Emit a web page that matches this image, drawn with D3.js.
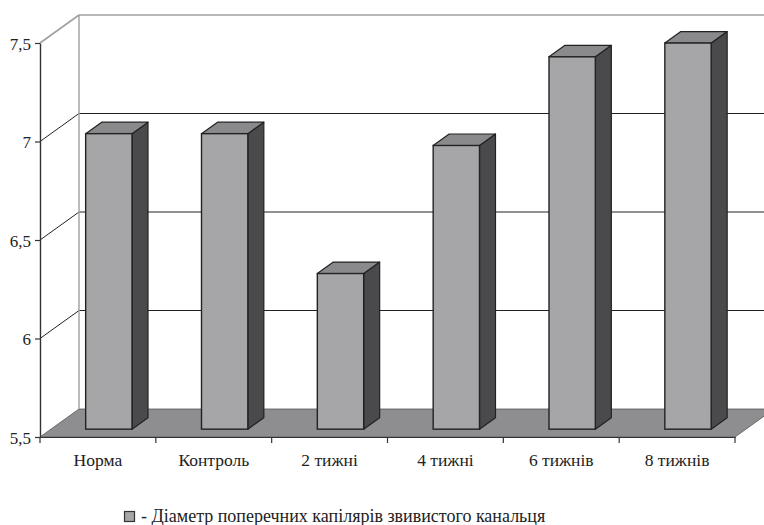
<!DOCTYPE html>
<html>
<head>
<meta charset="utf-8">
<title>Діаметр поперечних капілярів</title>
<script src="https://cdn.jsdelivr.net/npm/d3@7/dist/d3.min.js"></script>
</head>
<body style="margin:0;background:#ffffff">
<div id="wrap"></div>
<script>
// Time points and measured capillary diameters
const categories = ["Норма", "Контроль", "2 тижні", "4 тижні", "6 тижнів", "8 тижнів"];
const values = [7.0, 7.0, 6.29, 6.94, 7.39, 7.46];
const yTicks = [5.5, 6, 6.5, 7, 7.5];
const legendLabel = "- Діаметр поперечних капілярів звивистого канальця";

const SERIF = "'Liberation Serif'";
const svg = d3.select("#wrap").append("svg")
  .attr("width", 764).attr("height", 525)
  .style("display", "block").style("font-family", SERIF);

// Front plane of the 3D box and depth offset of the back wall
const x0 = 40, x1 = 735, yBase = 437, yTop = 43;
const DX = 39, DY = -28;
const f0 = 0.28, f1 = 0.69;   // bar front/back depth as a fraction of DX/DY

const x = d3.scaleBand().domain(categories).range([x0, x1]);
const y = d3.scaleLinear().domain([5.5, 7.5]).range([yBase, yTop]);
const fmt = v => String(v).replace(".", ",");

// Floor
svg.append("path")
  .attr("d", `M${x0},${yBase} L${x1},${yBase} L${x1 + DX},${yBase + DY} L${x0 + DX},${yBase + DY} Z`)
  .attr("fill", "#8e8e90").attr("stroke", "#555").attr("stroke-width", 0.8);

// Back wall gridlines and side-wall diagonals
yTicks.filter(t => t > 5.5).forEach(t => {
  const yy = y(t);
  const col = t === 7.5 ? "#a0a0a0" : "#222";
  const sw = t === 7.5 ? 1.6 : 1;
  svg.append("line").attr("x1", x0 + DX).attr("x2", 780)
    .attr("y1", yy + DY).attr("y2", yy + DY)
    .attr("stroke", col).attr("stroke-width", sw);
  svg.append("line").attr("x1", x0).attr("y1", yy)
    .attr("x2", x0 + DX).attr("y2", yy + DY)
    .attr("stroke", col).attr("stroke-width", sw);
});

// Back wall left edge
svg.append("line").attr("x1", x0 + DX).attr("x2", x0 + DX)
  .attr("y1", y(7.5) + DY).attr("y2", yBase + DY)
  .attr("stroke", "#a0a0a0").attr("stroke-width", 1.4);

// Bars: side, top, front faces
const bw = x.bandwidth() * 0.4;
const ox0 = DX * f0, oy0 = DY * f0;
const bdx = DX * (f1 - f0), bdy = DY * (f1 - f0);

svg.append("g").selectAll("g").data(categories).join("g").each(function (c, i) {
  const g = d3.select(this);
  const cx = x(c) + x.bandwidth() / 2 + ox0;
  const left = cx - bw / 2, right = cx + bw / 2;
  const top = y(values[i]) + oy0, bottom = yBase + oy0;
  g.append("path")
    .attr("d", `M${right},${top} L${right + bdx},${top + bdy} L${right + bdx},${bottom + bdy} L${right},${bottom} Z`)
    .attr("fill", "#4a4a4d").attr("stroke", "#222").attr("stroke-width", 1.2).attr("stroke-linejoin", "round");
  g.append("path")
    .attr("d", `M${left},${top} L${left + bdx},${top + bdy} L${right + bdx},${top + bdy} L${right},${top} Z`)
    .attr("fill", "#8a8a8d").attr("stroke", "#222").attr("stroke-width", 1.2).attr("stroke-linejoin", "round");
  g.append("rect")
    .attr("x", left).attr("y", top).attr("width", bw).attr("height", bottom - top)
    .attr("fill", "#a6a6a9").attr("stroke", "#222").attr("stroke-width", 1.4);
});

// Value axis
const yAxis = svg.append("g").attr("transform", `translate(${x0},0)`)
  .call(d3.axisLeft(y).tickValues(yTicks).tickFormat(fmt).tickSize(5).tickSizeOuter(0));
yAxis.attr("font-family", null).attr("font-size", null);
yAxis.select(".domain").attr("stroke", "#333").attr("stroke-width", 1.4);
yAxis.selectAll(".tick line").attr("stroke", "#333").attr("stroke-width", 1.2);
yAxis.selectAll(".tick text")
  .style("font-family", SERIF).style("font-size", "17px")
  .attr("fill", "#222").attr("dx", "-1").attr("dy", "0.36em");

// Category axis
const xAxis = svg.append("g").attr("transform", `translate(0,${yBase})`)
  .call(d3.axisBottom(x).tickSize(0).tickSizeOuter(0));
xAxis.attr("font-family", null).attr("font-size", null);
xAxis.select(".domain").attr("stroke", "#333").attr("stroke-width", 1.2);
xAxis.selectAll(".tick text")
  .style("font-family", SERIF).style("font-size", "17.5px")
  .attr("fill", "#222").attr("y", 0).attr("dy", "1.65em");
// boundary ticks between categories
svg.append("g").selectAll("line").data(categories.map(c => x(c)).concat([x1])).join("line")
  .attr("x1", d => d).attr("x2", d => d)
  .attr("y1", yBase).attr("y2", yBase + 6)
  .attr("stroke", "#333").attr("stroke-width", 1.2);

// Legend
svg.append("rect").attr("x", 124.5).attr("y", 511.5).attr("width", 10).attr("height", 10)
  .attr("fill", "#a6a6a9").attr("stroke", "#333").attr("stroke-width", 1.2);
svg.append("text").attr("x", 141).attr("y", 522)
  .style("font-family", SERIF).style("font-size", "18px")
  .attr("fill", "#222").text(legendLabel);
</script>
</body>
</html>
